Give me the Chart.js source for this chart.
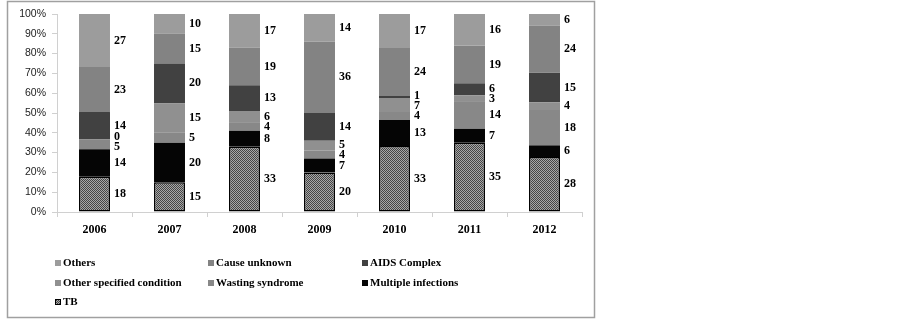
<!DOCTYPE html>
<html>
<head>
<meta charset="utf-8">
<script src="https://cdn.jsdelivr.net/npm/chart.js@4/dist/chart.umd.min.js"></script>
<style>
  html, body { margin: 0; padding: 0; background: #fff; }
  #wrap { position: relative; width: 903px; height: 319px; }
  canvas { display: block; }
</style>
</head>
<body>
<div id="wrap"><canvas id="c" width="903" height="319"></canvas></div>
<script>
// ---- data ----
const years = ['2006', '2007', '2008', '2009', '2010', '2011', '2012'];
const tb = [18, 15, 33, 20, 33, 35, 28];
const multipleInfections = [14, 20, 8, 7, 13, 7, 6];
const wastingSyndrome = [5, 5, 4, 4, 4, 14, 18];
const otherSpecified = [0, 15, 6, 5, 7, 3, 4];
const aidsComplex = [14, 20, 13, 14, 1, 6, 15];
const causeUnknown = [23, 15, 19, 36, 24, 19, 24];
const others = [27, 10, 17, 14, 17, 16, 6];
const yTicks = [0, 10, 20, 30, 40, 50, 60, 70, 80, 90, 100];

// checker pattern for TB
function makePattern() {
  const p = document.createElement('canvas');
  p.width = 2; p.height = 2;
  const g = p.getContext('2d');
  g.fillStyle = '#a8a8a8';
  g.fillRect(0, 0, 2, 2);
  g.fillStyle = '#454545';
  g.fillRect(0, 0, 1, 1);
  g.fillRect(1, 1, 1, 1);
  return document.getElementById('c').getContext('2d').createPattern(p, 'repeat');
}
const tbPattern = makePattern();

const series = [
  { label: 'TB', raw: tb, color: tbPattern, swatch: tbPattern, border: '#000', bw: 1.5 },
  { label: 'Multiple infections', raw: multipleInfections, color: '#050505', swatch: '#050505', border: '#000', bw: 0 },
  { label: 'Wasting syndrome', raw: wastingSyndrome, color: '#888888', swatch: '#888888', border: '#b0b0b0', bw: 0 },
  { label: 'Other specified condition', raw: otherSpecified, color: '#909090', swatch: '#909090', border: '#b0b0b0', bw: 0 },
  { label: 'AIDS Complex', raw: aidsComplex, color: '#414141', swatch: '#414141', border: '#b0b0b0', bw: 0 },
  { label: 'Cause unknown', raw: causeUnknown, color: '#838383', swatch: '#838383', border: '#b0b0b0', bw: 0 },
  { label: 'Others', raw: others, color: '#9c9c9c', swatch: '#9c9c9c', border: '#b0b0b0', bw: 0 }
];

const totals = years.map((_, i) => series.reduce((s, d) => s + d.raw[i], 0));

const datasets = series.map(s => ({
  label: s.label,
  data: s.raw.map((v, i) => v / totals[i] * 100),
  raw: s.raw,
  backgroundColor: s.color,
  borderColor: s.border,
  borderWidth: s.bw,
  borderSkipped: false,
  barPercentage: 0.413,
  categoryPercentage: 1.0
}));

const legendOrder = ['Others', 'Cause unknown', 'AIDS Complex', 'Other specified condition', 'Wasting syndrome', 'Multiple infections', 'TB'];

const framePlugin = {
  id: 'frame',
  beforeDraw(chart) {
    const ctx = chart.ctx;
    ctx.save();
    ctx.fillStyle = '#fff';
    ctx.fillRect(0, 0, chart.width, chart.height);
    ctx.strokeStyle = '#a0a0a0';
    ctx.lineWidth = 1.5;
    ctx.strokeRect(7.5, 1.5, 587, 316);
    ctx.restore();
  }
};

const labelPlugin = {
  id: 'segLabels',
  afterDatasetsDraw(chart) {
    const ctx = chart.ctx;
    ctx.save();
    ctx.font = 'bold 12px "Liberation Serif", "Times New Roman", serif';
    ctx.fillStyle = '#000';
    ctx.textAlign = 'left';
    ctx.textBaseline = 'middle';
    for (let i = 0; i < years.length; i++) {
      const items = [];
      chart.data.datasets.forEach((ds, di) => {
        const el = chart.getDatasetMeta(di).data[i];
        items.push({ text: String(ds.raw[i]), y: (el.y + el.base) / 2, x: el.x + el.width / 2 + 4 });
      });
      const gap = 10;
      for (let it = 0; it < 30; it++) {
        let moved = false;
        for (let k = 1; k < items.length; k++) {
          const lo = items[k - 1], hi = items[k];
          const d = lo.y - hi.y;
          if (d < gap) {
            const sh = (gap - d) / 2;
            lo.y += sh; hi.y -= sh; moved = true;
          }
        }
        if (!moved) break;
      }
      items.forEach(t => ctx.fillText(t.text, t.x, t.y));
    }
    ctx.restore();
  }
};

const legendPlugin = {
  id: 'customLegend',
  afterDraw(chart) {
    const ctx = chart.ctx;
    const colX = [55, 208, 362];
    const rowY = [263, 283, 302];
    ctx.save();
    ctx.font = 'bold 11px "Liberation Serif", "Times New Roman", serif';
    ctx.textBaseline = 'middle';
    ctx.textAlign = 'left';
    legendOrder.forEach((name, idx) => {
      const s = series.find(q => q.label === name);
      const x = colX[idx % 3], y = rowY[Math.floor(idx / 3)];
      ctx.fillStyle = s.swatch;
      ctx.fillRect(x, y - 3, 6, 6);
      if (name === 'TB') {
        ctx.strokeStyle = '#000';
        ctx.lineWidth = 1;
        ctx.strokeRect(x + 0.5, y - 2.5, 5, 5);
      }
      ctx.fillStyle = '#000';
      ctx.fillText(name, x + 8, y);
    });
    ctx.restore();
  }
};

new Chart(document.getElementById('c'), {
  type: 'bar',
  data: { labels: years, datasets },
  options: {
    responsive: false,
    animation: false,
    events: [],
    layout: { padding: { left: 0, top: 14, right: 321, bottom: 0 } },
    plugins: { legend: { display: false }, tooltip: { enabled: false } },
    scales: {
      x: {
        stacked: true,
        offset: true,
        grid: { display: true, offset: true, drawOnChartArea: false, drawTicks: true, tickLength: 5, color: '#d0d0d0' },
        border: { display: true, color: '#d0d0d0' },
        ticks: { color: '#000', font: { family: '"Liberation Serif", "Times New Roman", serif', size: 12, weight: 'bold' }, padding: 6, maxRotation: 0 },
        afterFit(scale) { scale.height = 107; }
      },
      y: {
        stacked: true,
        min: 0, max: 100,
        afterBuildTicks(scale) { scale.ticks = yTicks.map(v => ({ value: v })); },
        grid: { display: true, drawOnChartArea: false, drawTicks: true, tickLength: 5, color: '#d0d0d0' },
        border: { display: true, color: '#d0d0d0' },
        ticks: {
          color: '#222',
          font: { family: '"Liberation Sans", Arial, sans-serif', size: 10.5 },
          padding: 6,
          callback: v => v + '%'
        },
        afterFit(scale) { scale.width = 57; }
      }
    }
  },
  plugins: [framePlugin, labelPlugin, legendPlugin]
});
</script>
</body>
</html>
